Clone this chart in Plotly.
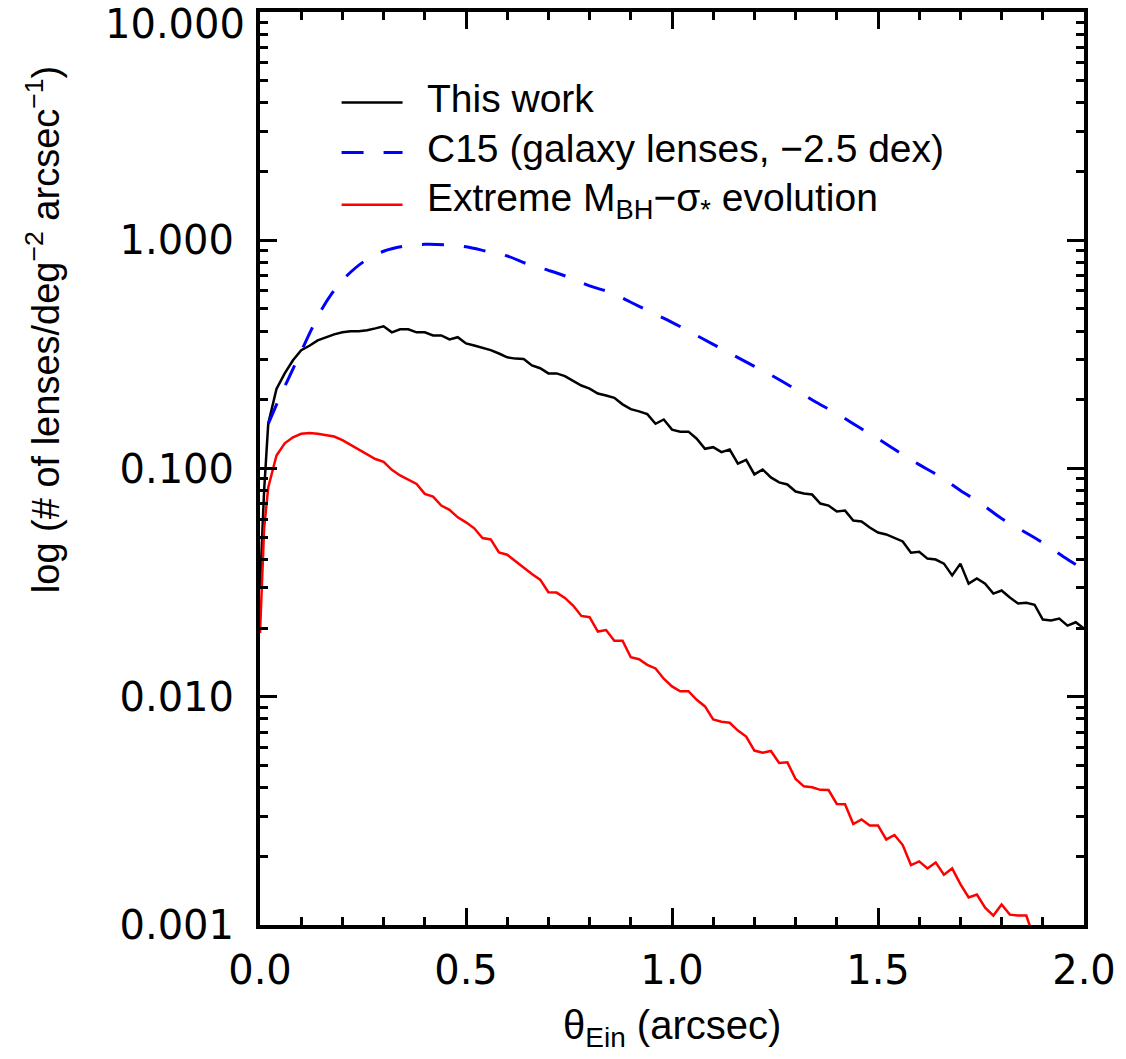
import plotly.graph_objects as go

# Einstein-radius grid (arcsec): first two samples, then 0.02 steps up to 2.0
theta = [0.0, 0.01] + [round(0.02 * i, 2) for i in range(1, 101)]

# Differential lens counts (# deg^-2 arcsec^-1)
this_work = [
    0.03, 0.080, 0.157, 0.223, 0.261, 0.298, 0.330, 0.345, 0.364, 0.376,
    0.387, 0.395, 0.399, 0.399, 0.403, 0.411, 0.420, 0.395, 0.407, 0.407,
    0.395, 0.395, 0.383, 0.383, 0.368, 0.376, 0.353, 0.346, 0.339, 0.330,
    0.319, 0.307, 0.303, 0.302, 0.283, 0.275, 0.261, 0.261, 0.254, 0.243,
    0.231, 0.224, 0.213, 0.209, 0.204, 0.191, 0.182, 0.178, 0.173, 0.157,
    0.164, 0.148, 0.145, 0.145, 0.135, 0.122, 0.124, 0.118, 0.121, 0.105,
    0.109, 0.0942, 0.0990, 0.0914, 0.0869, 0.0851, 0.0793, 0.0777, 0.0769, 0.0702,
    0.0688, 0.0648, 0.0654, 0.0592, 0.0586, 0.0551, 0.0524, 0.0514, 0.0498, 0.0479,
    0.0428, 0.0432, 0.0403, 0.0399, 0.0383, 0.0340, 0.0383, 0.0313, 0.0330, 0.0313,
    0.0283, 0.0292, 0.0272, 0.0256, 0.0258, 0.0253, 0.0218, 0.0216, 0.0220, 0.0205,
    0.0212, 0.0199,
]

extreme_evol = [
    0.019, 0.0545, 0.0826, 0.114, 0.129, 0.137, 0.142, 0.143, 0.142, 0.140,
    0.138, 0.133, 0.127, 0.121, 0.115, 0.110, 0.107, 0.0987, 0.0932, 0.0892,
    0.0856, 0.0774, 0.0753, 0.0688, 0.0659, 0.0611, 0.0581, 0.0547, 0.0496, 0.0489,
    0.0429, 0.0419, 0.0392, 0.0367, 0.0345, 0.0326, 0.0287, 0.0286, 0.0271, 0.0251,
    0.0226, 0.0223, 0.0193, 0.0196, 0.0176, 0.0176, 0.0149, 0.0146, 0.0138, 0.0133,
    0.0120, 0.0111, 0.01057, 0.01057, 0.00970, 0.00907, 0.00795, 0.00777, 0.00769, 0.00711,
    0.00669, 0.00581, 0.00568, 0.00579, 0.00513, 0.00516, 0.00436, 0.00405, 0.00401, 0.00391,
    0.00390, 0.00339, 0.00338, 0.00277, 0.00290, 0.00273, 0.00273, 0.00237, 0.00248, 0.00224,
    0.00183, 0.00190, 0.00177, 0.00188, 0.00166, 0.00177, 0.00151, 0.00132, 0.00136, 0.00119,
    0.00110, 0.00123, 0.00111, 0.00110, 0.00110, 0.00086,
]

# C15 galaxy-lens prediction, shifted by -2.5 dex
c15_theta = [0.02, 0.05, 0.075, 0.10, 0.125, 0.15, 0.175, 0.20, 0.25, 0.30,
             0.35, 0.40, 0.45, 0.50, 0.55, 0.60, 0.65, 0.70, 0.75, 0.80,
             0.85, 0.90, 0.95, 1.00, 1.05, 1.10, 1.15, 1.20, 1.25, 1.30,
             1.35, 1.40, 1.45, 1.50, 1.55, 1.60, 1.65, 1.70, 1.75, 1.80,
             1.85, 1.90, 1.95, 2.00]
c15 = [0.157, 0.209, 0.261, 0.326, 0.407, 0.498, 0.586, 0.668, 0.802, 0.895,
       0.942, 0.960, 0.955, 0.936, 0.895, 0.853, 0.786, 0.738, 0.688, 0.631,
       0.591, 0.535, 0.483, 0.437, 0.391, 0.350, 0.313, 0.280, 0.251, 0.222,
       0.195, 0.174, 0.153, 0.135, 0.118, 0.104, 0.0923, 0.0801, 0.0702, 0.0604,
       0.0535, 0.0473, 0.0411, 0.0361]

y_tickvals = [0.001, 0.01, 0.1, 1.0, 10.0]
y_ticktext = ["0.001", "0.010", "0.100", "1.000", "10.000"]
y_minor = [m * 10.0 ** e for e in range(-3, 1) for m in range(2, 10)]

series_names = [
    "This work",
    "C15 (galaxy lenses, \u22122.5 dex)",
    "Extreme M<sub>BH</sub>\u2212\u03c3<sub>*</sub> evolution",
]
series_colors = ["#000000", "#0000ff", "#ff0000"]
series_dash = ["solid", "22px,20px", "solid"]
series_width = [2.5, 3, 2.5]

TXT = "Liberation Sans, Arial, sans-serif"
TICKFONT = dict(family="DejaVu Sans, sans-serif", size=40, color="black")

fig = go.Figure()
fig.add_trace(go.Scatter(x=theta, y=this_work, mode="lines",
                         line=dict(color=series_colors[0], width=series_width[0])))
fig.add_trace(go.Scatter(x=c15_theta, y=c15, mode="lines", line_shape="spline",
                         line=dict(color=series_colors[1], width=series_width[1],
                                   dash=series_dash[1])))
fig.add_trace(go.Scatter(x=theta[:len(extreme_evol)], y=extreme_evol, mode="lines",
                         line=dict(color=series_colors[2], width=series_width[2])))

# Legend drawn as line samples plus labels in the upper-left of the frame
legend_y = [0.901, 0.846, 0.789]
for name, col, dash, lw, yy in zip(series_names, series_colors, series_dash,
                                    series_width, legend_y):
    fig.add_shape(type="line", xref="paper", yref="paper",
                  x0=0.099, x1=0.173, y0=yy, y1=yy,
                  line=dict(color=col, width=lw, dash=dash))
    fig.add_annotation(xref="paper", yref="paper", x=0.2, y=yy + 0.004,
                       text=name, showarrow=False, xanchor="left", yanchor="middle",
                       font=dict(family=TXT, size=39, color="black"))

# Topmost y label sits just inside the page edge, below its tick
top_label = y_ticktext[-1]
y_ticktext_axis = y_ticktext[:-1] + [""]
fig.add_annotation(xref="paper", yref="paper", x=-0.016, y=0.987,
                   text=top_label, showarrow=False, xanchor="right", yanchor="middle",
                   font=TICKFONT)

# Axis titles
fig.add_annotation(xref="paper", yref="paper", x=0.5, y=-0.113,
                   text="\u03b8<sub>Ein</sub> (arcsec)", showarrow=False,
                   xanchor="center", yanchor="middle",
                   font=dict(family=TXT, size=40, color="black"))
fig.add_annotation(xref="paper", yref="paper", x=-0.264, y=0.652,
                   text="log (# of lenses/deg<sup>\u22122</sup> arcsec<sup>\u22121</sup>)",
                   showarrow=False, textangle=-90, xanchor="center", yanchor="middle",
                   font=dict(family=TXT, size=38, color="black"))

fig.update_xaxes(
    range=[0, 2], dtick=0.5, tick0=0, tickformat=".1f",
    ticks="inside", ticklen=17, tickwidth=3, tickcolor="black",
    showline=True, linewidth=4, linecolor="black", mirror="ticks",
    showgrid=False, zeroline=False, tickfont=TICKFONT, ticklabelstandoff=7,
    ticklabeloverflow="allow", automargin=False,
    minor=dict(dtick=0.1, tick0=0, ticks="inside", ticklen=8, tickwidth=3,
               tickcolor="black", showgrid=False),
)
fig.update_yaxes(
    type="log", range=[-3, 1], tickmode="array",
    tickvals=y_tickvals, ticktext=y_ticktext_axis,
    ticks="inside", ticklen=17, tickwidth=3, tickcolor="black",
    showline=True, linewidth=4, linecolor="black", mirror="ticks",
    showgrid=False, zeroline=False, tickfont=TICKFONT, ticklabelstandoff=14,
    ticklabeloverflow="allow", automargin=False,
    minor=dict(tickmode="array", tickvals=y_minor, ticks="inside", ticklen=8,
               tickwidth=3, tickcolor="black", showgrid=False),
)

fig.update_layout(
    width=1126, height=1059,
    margin=dict(l=260, r=42, t=12, b=134),
    paper_bgcolor="white", plot_bgcolor="white",
    showlegend=False,
)

fig.write_html("out.html")
